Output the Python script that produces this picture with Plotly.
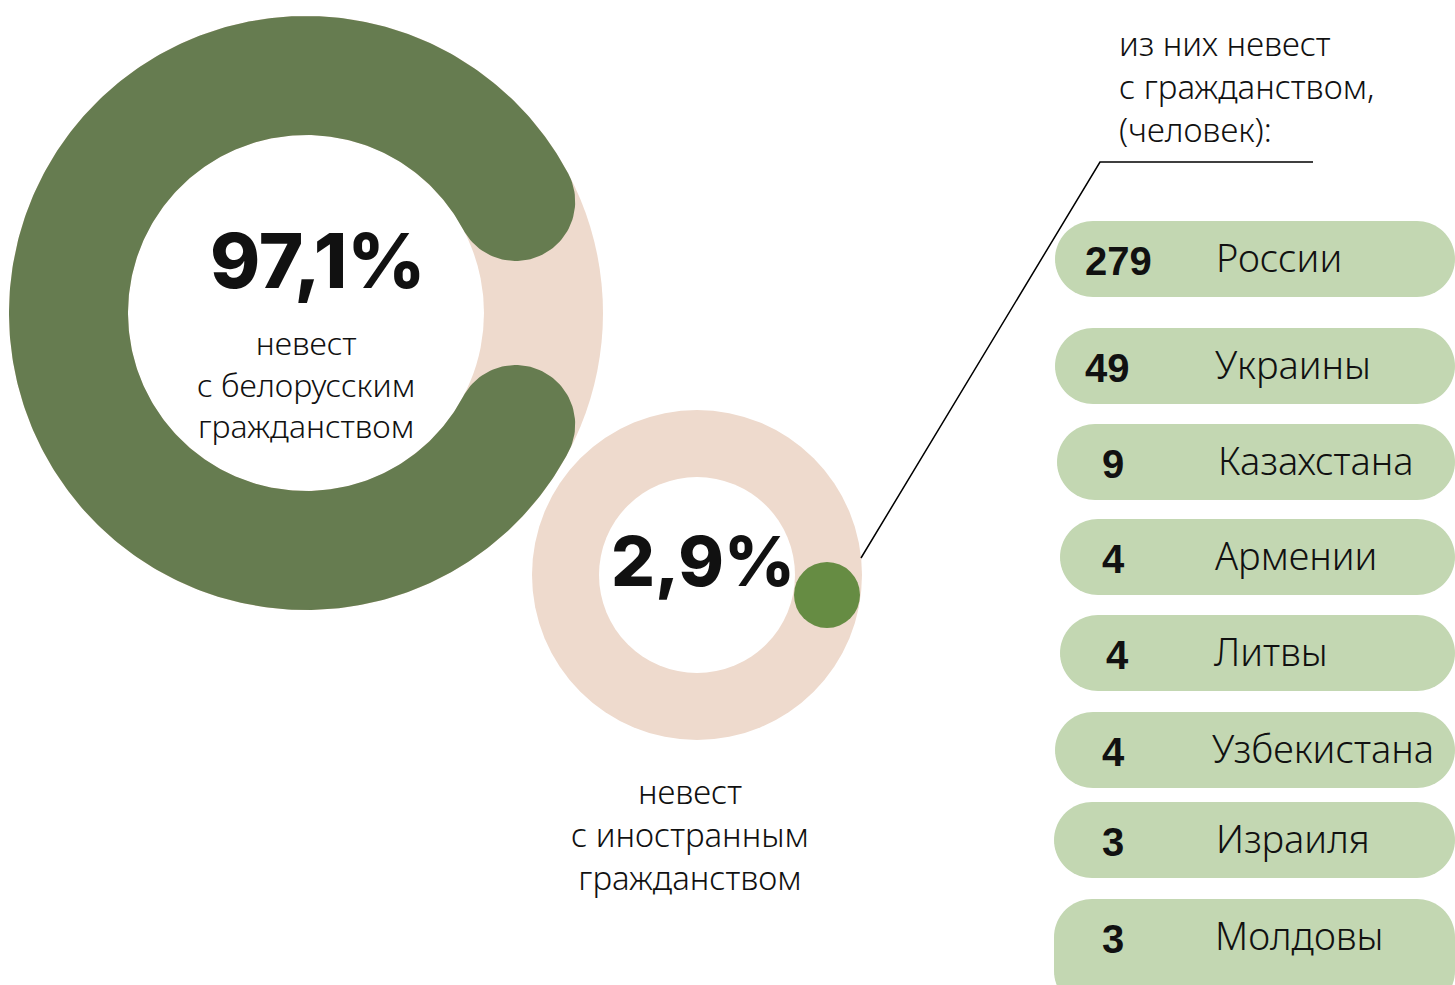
import numpy as np
import plotly.graph_objects as go

# ---- data ----
shares = [97.1, 2.9]
share_labels = ["97,1%", "2,9%"]
big_caption = ["невест", "с белорусским", "гражданством"]
small_caption = ["невест", "с иностранным", "гражданством"]
countries = ["России", "Украины", "Казахстана", "Армении", "Литвы",
             "Узбекистана", "Израиля", "Молдовы"]
counts = [279, 49, 9, 4, 4, 4, 3, 3]
list_title = ["из них невест", "с гражданством,", "(человек):"]

# ---- style ----
W, H = 1455, 985
GREEN = "#667c50"
PINK = "#eedacd"
PILL = "#c3d7b2"
DOT = "#668c43"
TXT = "#111111"
LIGHT_FONT = "Noto Sans"
LIGHT_W = 300
BOLD_FONT = "Inter"

fig = go.Figure()
shapes = []


def disc(cx, cy, r, color, layer="below"):
    return dict(type="circle", x0=cx - r, x1=cx + r, y0=cy - r, y1=cy + r,
                fillcolor=color, line_width=0, layer=layer)


# big donut
bcx, bcy, bro, bri = 306, 313, 297, 178
shapes.append(disc(bcx, bcy, bro, PINK))
shapes.append(disc(bcx, bcy, bri, "white"))

# small donut
scx, scy, sro, sri = 697, 575, 165, 98
shapes.append(disc(scx, scy, sro, PINK))
shapes.append(disc(scx, scy, sri, "white"))

# green arc with round caps (stylised share of big donut)
gap_deg = 56.0
a0 = np.radians(gap_deg / 2)
a1 = np.radians(360 - gap_deg / 2)
rm = (bro + bri) / 2
hw = (bro - bri) / 2


def pt(r, a):
    return bcx + r * np.cos(a), bcy - r * np.sin(a)


xs, ys = [], []
for a in np.linspace(a0, a1, 400):
    x, y = pt(bro, a); xs.append(x); ys.append(y)
u1 = np.array([np.cos(a1), -np.sin(a1)])
t1 = np.array([-np.sin(a1), -np.cos(a1)])
c1 = np.array(pt(rm, a1))
for p in np.linspace(0, np.pi, 60):
    q = c1 + hw * (np.cos(p) * u1 + np.sin(p) * t1)
    xs.append(q[0]); ys.append(q[1])
for a in np.linspace(a1, a0, 400):
    x, y = pt(bri, a); xs.append(x); ys.append(y)
u0 = np.array([np.cos(a0), -np.sin(a0)])
t0 = np.array([-np.sin(a0), -np.cos(a0)])
c0 = np.array(pt(rm, a0))
for p in np.linspace(np.pi, 0, 60):
    q = c0 + hw * (np.cos(p) * u0 - np.sin(p) * t0)
    xs.append(q[0]); ys.append(q[1])

fig.add_trace(go.Scatter(x=xs, y=ys, fill="toself", fillcolor=GREEN, mode="lines",
                         line=dict(width=0, color=GREEN), hoverinfo="skip", showlegend=False))

# green dot on small donut
shapes.append(disc(827, 595, 33, DOT, layer="above"))

# leader line
fig.add_trace(go.Scatter(x=[861, 1100, 1313], y=[558, 162, 162], mode="lines",
                         line=dict(color="black", width=1.5), hoverinfo="skip", showlegend=False))

# pills
pill_top = [221, 328, 424, 519, 615, 712, 802, 899]
pill_h = [76, 76, 76, 76, 76, 76, 76, 110]
pill_left = [1055, 1055, 1057, 1060, 1060, 1055, 1054, 1054]
num_x = [1083, 1083, 1100, 1100, 1104, 1100, 1100, 1100]
name_x = [1214, 1213, 1216, 1213, 1212, 1210, 1214, 1213]
pr = 38


def pill_path(x0, y0, x1, y1, r):
    pts = []
    for ang in np.linspace(np.pi / 2, np.pi, 20):
        pts.append((x0 + r + r * np.cos(ang), y0 + r - r * np.sin(ang)))
    for ang in np.linspace(np.pi, 3 * np.pi / 2, 20):
        pts.append((x0 + r + r * np.cos(ang), y1 - r - r * np.sin(ang)))
    for ang in np.linspace(-np.pi / 2, 0, 20):
        pts.append((x1 - r + r * np.cos(ang), y1 - r - r * np.sin(ang)))
    for ang in np.linspace(0, np.pi / 2, 20):
        pts.append((x1 - r + r * np.cos(ang), y0 + r - r * np.sin(ang)))
    return "M " + " L ".join(f"{px:.2f},{py:.2f}" for px, py in pts) + " Z"


for i, (c, n) in enumerate(zip(countries, counts)):
    x0 = pill_left[i]; y0 = pill_top[i]
    shapes.append(dict(type="path", path=pill_path(x0, y0, W, y0 + pill_h[i], pr),
                       fillcolor=PILL, line_width=0, layer="below"))
    yc = y0 + 38
    fig.add_annotation(x=num_x[i], y=yc + 2, text=f"<b>{n}</b>", showarrow=False,
                       xanchor="left", yanchor="middle",
                       font=dict(family="Liberation Sans", size=40, color=TXT))
    fig.add_annotation(x=name_x[i], y=yc - 2, text=c, showarrow=False,
                       xanchor="left", yanchor="middle",
                       font=dict(family=LIGHT_FONT, size=38, color=TXT, weight=LIGHT_W))

CAP_SIZE = 32

# list title
fig.add_annotation(x=1117, y=86, text="<br>".join(list_title), showarrow=False,
                   xanchor="left", yanchor="middle", align="left",
                   font=dict(family=LIGHT_FONT, size=CAP_SIZE + 1, color=TXT, weight=LIGHT_W))

# big percentages
fig.add_annotation(x=318, y=260, text=share_labels[0], showarrow=False,
                   xanchor="center", yanchor="middle",
                   font=dict(family=BOLD_FONT, size=76, color=TXT, weight=800))
fig.add_annotation(x=306, y=384, text="<br>".join(big_caption), showarrow=False,
                   xanchor="center", yanchor="middle", align="center",
                   font=dict(family=LIGHT_FONT, size=CAP_SIZE, color=TXT, weight=LIGHT_W))
fig.add_annotation(x=703, y=561, text=share_labels[1], showarrow=False,
                   xanchor="center", yanchor="middle",
                   font=dict(family=BOLD_FONT, size=69, color=TXT, weight=800))
fig.add_annotation(x=690, y=834, text="<br>".join(small_caption), showarrow=False,
                   xanchor="center", yanchor="middle", align="center",
                   font=dict(family=LIGHT_FONT, size=CAP_SIZE + 1, color=TXT, weight=LIGHT_W))

fig.update_layout(
    width=W, height=H, margin=dict(l=0, r=0, t=0, b=0),
    paper_bgcolor="white", plot_bgcolor="white", shapes=shapes,
    xaxis=dict(range=[0, W], visible=False, fixedrange=True),
    yaxis=dict(range=[H, 0], visible=False, fixedrange=True),
    showlegend=False,
)
fig.write_html("out.html", config={"displayModeBar": False},
               post_script="document.body.style.margin='0';document.body.style.overflow='hidden';")
